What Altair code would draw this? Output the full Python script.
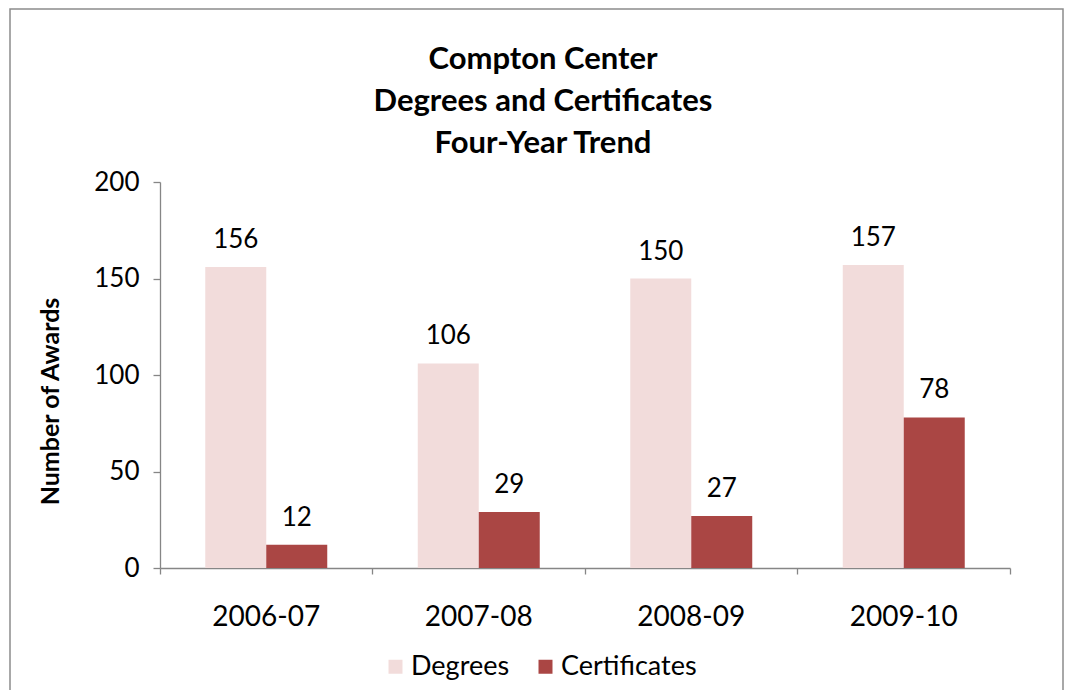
import altair as alt
import pandas as pd

years = ["2006-07", "2007-08", "2008-09", "2009-10"]
series = ["Degrees", "Certificates"]
degrees = [156, 106, 150, 157]
certificates = [12, 29, 27, 78]
colors = ["#F2DCDB", "#AA4644"]
title_lines = ["Compton Center", "Degrees and Certificates", "Four-Year Trend"]

rows = []
for i, y in enumerate(years):
    rows.append({"Year": y, "Series": "Degrees", "Value": degrees[i]})
    rows.append({"Year": y, "Series": "Certificates", "Value": certificates[i]})
df = pd.DataFrame(rows)

FONT = "Lato"
GREY = "#868686"

x_enc = alt.X(
    "Year:N", sort=years,
    scale=alt.Scale(paddingInner=0, paddingOuter=0),
    axis=alt.Axis(
        title=None, labelAngle=0, labelFontSize=28, labelFont=FONT, labelColor="black",
        labelPadding=29, domainColor=GREY, domainWidth=1.3, tickColor=GREY, tickWidth=1.3,
        tickSize=6, bandPosition=1, tickExtra=True,
    ),
)
xo_enc = alt.XOffset(
    "Series:N", sort=series,
    scale=alt.Scale(paddingInner=0, paddingOuter=0.742),
)
y_enc = alt.Y(
    "Value:Q",
    scale=alt.Scale(domain=[0, 200], nice=False),
    axis=alt.Axis(
        title="Number of Awards", titleFont=FONT, titleFontSize=25, titleFontWeight="bold",
        titleColor="black", titlePadding=30, titleY=219, values=[0, 50, 100, 150, 200],
        labelFontSize=26, labelFont=FONT, labelColor="black", labelPadding=14,
        domainColor=GREY, domainWidth=1.3, tickColor=GREY, tickWidth=1.3, tickSize=7, grid=False,
    ),
)

base = alt.Chart(df)

bars = base.mark_bar().encode(
    x=x_enc,
    xOffset=xo_enc,
    y=y_enc,
    color=alt.Color(
        "Series:N", sort=series,
        scale=alt.Scale(domain=series, range=colors),
        legend=alt.Legend(
            title=None, orient="none", legendX=222, legendY=471, direction="horizontal",
            symbolType="square", symbolSize=196, symbolStrokeWidth=0, labelFont=FONT,
            labelFontSize=27, labelColor="black", columnPadding=22, labelOffset=2,
        ),
    ),
)

labels = base.mark_text(baseline="bottom", dy=-14, font=FONT, fontSize=26, color="black").encode(
    x=alt.X("Year:N", sort=years),
    xOffset=alt.XOffset("Series:N", sort=series),
    y=alt.Y("Value:Q"),
    text=alt.Text("Value:Q"),
)

border = alt.Chart(pd.DataFrame({"a": [0]})).mark_rect(
    filled=False, stroke="#8c8c8c", strokeWidth=1.5
).encode(
    x=alt.value(-150), x2=alt.value(903), y=alt.value(-173), y2=alt.value(540)
)

title = alt.Chart(pd.DataFrame({"t": ["\n".join(title_lines)]})).mark_text(
    lineBreak="\n", align="center", baseline="middle", font=FONT, fontSize=31,
    fontWeight="bold", color="black", lineHeight=42,
).encode(
    text="t:N", x=alt.value(383), y=alt.value(-122)
)

chart = alt.layer(bars, labels, border, title).properties(
    width=850, height=386,
    padding={"left": 152, "top": 174, "right": 56, "bottom": 122},
    autosize=alt.AutoSizeParams(type="none"),
).configure_view(strokeOpacity=0)

chart.save("out.html", embed_options={"renderer": "svg", "actions": False})
